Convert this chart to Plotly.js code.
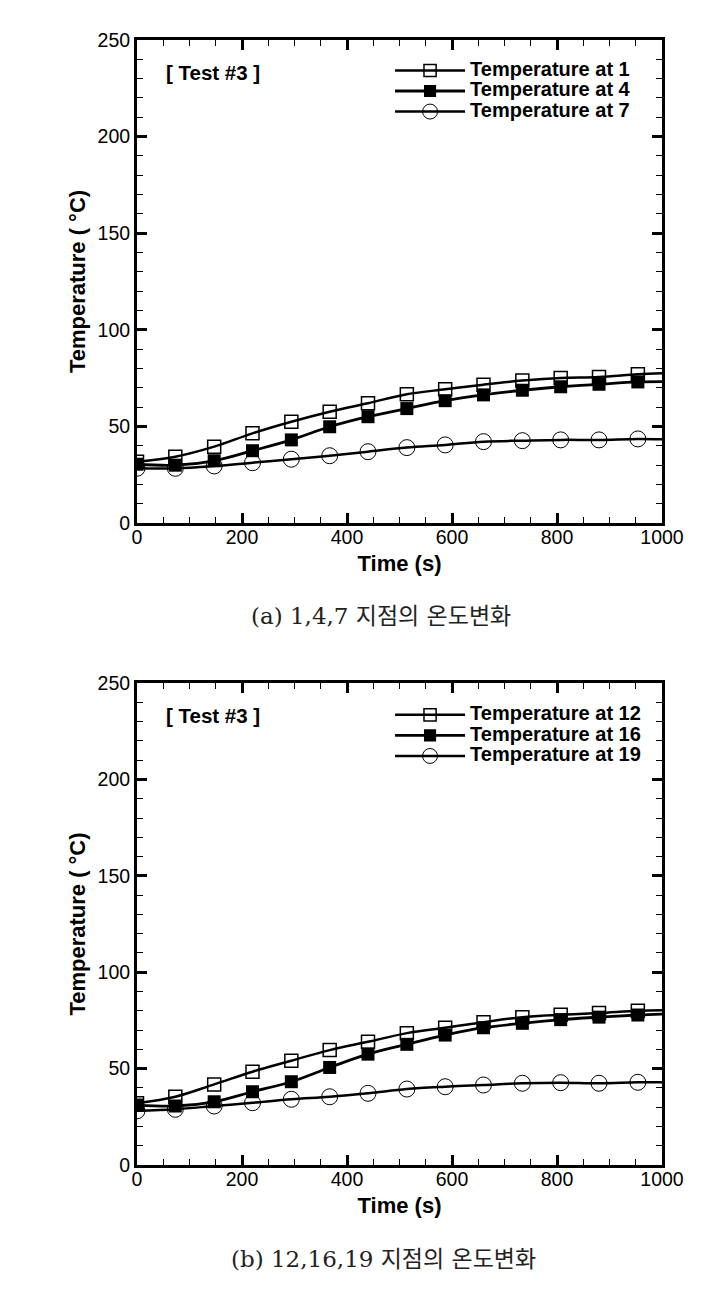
<!DOCTYPE html>
<html>
<head>
<meta charset="utf-8">
<script src="https://cdn.plot.ly/plotly-3.0.1.min.js"></script>
<style>
  body { margin: 0; background: #fff; }
  #graphDiv { width: 712px; height: 1299px; }
</style>
</head>
<body>
<div id="graphDiv"></div>
<script>
// time of each marker (s), last entry is where the curve ends
var time = [0, 73, 147, 220, 294, 367, 440, 514, 587, 660, 734, 807, 880, 954, 1000];

// (a) points 1, 4, 7
var temp1 = [31.7, 34.3, 39.5, 46.4, 52.4, 57.6, 62.0, 66.6, 69.2, 71.6, 73.7, 75.1, 75.6, 77.0, 77.5];
var temp4 = [30.4, 29.9, 32.2, 37.4, 43.0, 49.8, 55.0, 59.2, 63.3, 66.3, 68.7, 70.5, 71.8, 73.0, 73.2];
var temp7 = [28.3, 28.3, 29.5, 31.2, 33.0, 34.8, 36.9, 39.0, 40.4, 42.1, 42.6, 43.0, 43.0, 43.5, 43.3];

// (b) points 12, 16, 19
var temp12 = [32.0, 35.4, 41.8, 48.4, 54.1, 59.6, 63.9, 68.4, 71.2, 74.1, 76.7, 77.9, 78.8, 80.0, 80.3];
var temp16 = [31.1, 30.6, 32.8, 38.0, 43.2, 50.6, 57.5, 62.6, 67.4, 71.2, 73.5, 75.4, 76.7, 77.8, 78.3];
var temp19 = [28.1, 28.9, 30.6, 32.3, 34.1, 35.4, 37.2, 39.4, 40.6, 41.5, 42.4, 42.7, 42.4, 42.9, 42.9];

var namesA = ['Temperature at 1', 'Temperature at 4', 'Temperature at 7'];
var namesB = ['Temperature at 12', 'Temperature at 16', 'Temperature at 19'];
var captions = ['(a) 1,4,7 지점의 온도변화', '(b) 12,16,19 지점의 온도변화'];
var testLabel = '[ Test #3 ]';

// no marker on the end point of each curve
function sizes(s) {
  var arr = time.map(function () { return s; });
  arr[arr.length - 1] = 0;
  return arr;
}

var styles = [
  {symbol: 'square-open', size: 13, lw: 1.5, width: 2.5},
  {symbol: 'square', size: 13, lw: 0, width: 2.8},
  {symbol: 'circle-open', size: 16, lw: 1, width: 2.5}
];

// legend text is set bigger than legend.font.size so rows stay tight
function big(s) {
  return '<span style="font-size:20px">' + s + '</span>';
}

function makeTrace(y, name, st, xa, ya, leg) {
  return {
    x: time, y: y, name: big(name),
    type: 'scatter', mode: 'lines+markers',
    xaxis: xa, yaxis: ya, legend: leg,
    line: {color: '#000', width: st.width, shape: 'spline', smoothing: 1},
    marker: {symbol: st.symbol, size: sizes(st.size), color: '#000', opacity: 1,
             line: {color: '#000', width: st.lw}}
  };
}

var data = [
  makeTrace(temp1, namesA[0], styles[0], 'x', 'y', 'legend'),
  makeTrace(temp4, namesA[1], styles[1], 'x', 'y', 'legend'),
  makeTrace(temp7, namesA[2], styles[2], 'x', 'y', 'legend'),
  makeTrace(temp12, namesB[0], styles[0], 'x2', 'y2', 'legend2'),
  makeTrace(temp16, namesB[1], styles[1], 'x2', 'y2', 'legend2'),
  makeTrace(temp19, namesB[2], styles[2], 'x2', 'y2', 'legend2')
];

var font = 'Liberation Sans, Arial, sans-serif';

function xAxis(anchor) {
  return {
    anchor: anchor, range: [0, 1000], tick0: 0, dtick: 200,
    ticks: 'inside', ticklen: 10, tickwidth: 3, tickcolor: '#000',
    minor: {dtick: 50, ticks: 'inside', ticklen: 6, tickwidth: 1, tickcolor: '#000'},
    showline: true, linewidth: 3, linecolor: '#000', mirror: 'ticks',
    showgrid: false, zeroline: false, ticklabelstandoff: -5,
    tickfont: {family: font, size: 19.5, color: '#000'},
    title: {text: 'Time (s)', standoff: 9, font: {family: font, size: 22, weight: 'bold', color: '#000'}}
  };
}

function yAxis(anchor, domain) {
  return {
    anchor: anchor, domain: domain, range: [0, 250], tick0: 0, dtick: 50,
    ticks: 'inside', ticklen: 10, tickwidth: 3, tickcolor: '#000',
    minor: {dtick: 10, ticks: 'inside', ticklen: 6, tickwidth: 1, tickcolor: '#000'},
    showline: true, linewidth: 3, linecolor: '#000', mirror: 'ticks',
    showgrid: false, zeroline: false,
    tickfont: {family: font, size: 19.5, color: '#000'},
    title: {text: 'Temperature ( °C)', standoff: 6, font: {family: font, size: 22, weight: 'bold', color: '#000'}}
  };
}

function legendBox(y) {
  return {
    x: 0.482, y: y, xanchor: 'left', yanchor: 'top',
    bgcolor: 'rgba(0,0,0,0)', borderwidth: 0,
    itemwidth: 70, tracegroupgap: 0,
    font: {family: font, size: 13.5, weight: 'bold', color: '#000'}
  };
}

var capFont = {family: 'DejaVu Serif, Noto Sans CJK KR, serif', size: 23, color: '#222'};

var layout = {
  width: 712, height: 1299,
  margin: {l: 137, r: 50, t: 40, b: 134},
  paper_bgcolor: '#fff', plot_bgcolor: '#fff',
  showlegend: true,
  xaxis: xAxis('y'),
  yaxis: yAxis('x', [0.5707, 1]),
  xaxis2: xAxis('y2'),
  yaxis2: yAxis('x2', [0, 0.4284]),
  legend: legendBox(0.9865),
  legend2: legendBox(0.4137),
  annotations: [
    {xref: 'x', yref: 'y', x: 52, y: 233, xanchor: 'left', yanchor: 'middle', showarrow: false,
     text: testLabel, font: {family: font, size: 20.5, weight: 'bold', color: '#000'}},
    {xref: 'x2', yref: 'y2', x: 52, y: 233, xanchor: 'left', yanchor: 'middle', showarrow: false,
     text: testLabel, font: {family: font, size: 20.5, weight: 'bold', color: '#000'}},
    {xref: 'paper', yref: 'paper', x: 0.465, y: 0.488, xanchor: 'center', yanchor: 'middle', showarrow: false,
     text: captions[0], font: capFont},
    {xref: 'paper', yref: 'paper', x: 0.469, y: -0.0836, xanchor: 'center', yanchor: 'middle', showarrow: false,
     text: captions[1], font: capFont}
  ]
};

Plotly.newPlot('graphDiv', data, layout, {staticPlot: true});
</script>
</body>
</html>
